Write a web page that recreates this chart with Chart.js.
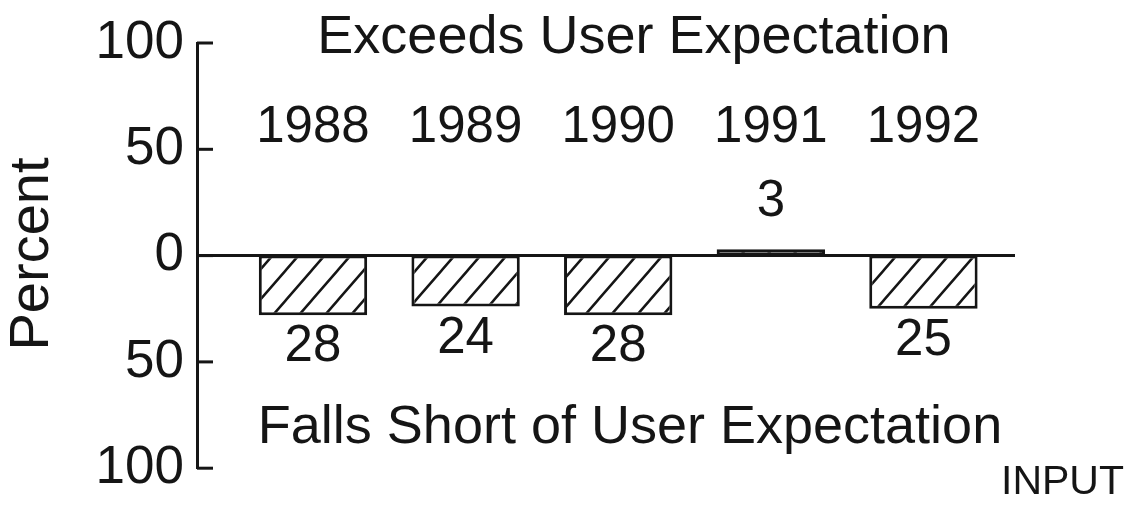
<!DOCTYPE html>
<html>
<head>
<meta charset="utf-8">
<script src="https://cdn.jsdelivr.net/npm/chart.js@4/dist/chart.umd.min.js"></script>
<style>
  html, body { margin: 0; padding: 0; background: #fff; }
  canvas { display: block; }
</style>
</head>
<body>
<canvas id="userChart" width="1127" height="505"></canvas>
<script>
// Net percent vs. user expectation, per year
const years = ['1988', '1989', '1990', '1991', '1992'];
const yearValues = [1988, 1989, 1990, 1991, 1992];
const netPercent = [-28, -24, -28, 3, -25];
const valueLabels = ['28', '24', '28', '3', '25'];
const yTicks = [-100, -50, 0, 50, 100];

const INK = '#151515';
const FONT = '"Liberation Sans", Arial, sans-serif';

function makeHatch() {
    const w = 26, h = 30;
    const c = document.createElement('canvas');
    c.width = w; c.height = h;
    const g = c.getContext('2d');
    g.fillStyle = '#fff';
    g.fillRect(0, 0, w, h);
    g.strokeStyle = INK;
    g.lineWidth = 2.5;
    g.beginPath();
    g.moveTo(-w, 2 * h); g.lineTo(2 * w, -h);
    g.moveTo(-2 * w, 2 * h); g.lineTo(w, -h);
    g.moveTo(0, 2 * h); g.lineTo(3 * w, -h);
    g.stroke();
    return g.createPattern(c, 'repeat');
}

const decorPlugin = {
    id: 'decor',
    beforeDatasetsDraw(chart) {
        const ctx = chart.ctx;
        const y = chart.scales.y;
        const area = chart.chartArea;
        ctx.save();
        ctx.strokeStyle = INK;
        ctx.lineWidth = 3;
        // zero line
        const y0 = y.getPixelForValue(0);
        ctx.beginPath();
        ctx.moveTo(area.left, y0);
        ctx.lineTo(area.right, y0);
        ctx.stroke();
        // tick marks pointing inward
        yTicks.forEach(v => {
            const py = y.getPixelForValue(v);
            ctx.beginPath();
            ctx.moveTo(area.left, py);
            ctx.lineTo(area.left + 16, py);
            ctx.stroke();
        });
        ctx.restore();
    },
    afterDraw(chart) {
        const ctx = chart.ctx;
        const x = chart.scales.x;
        const y = chart.scales.y;
        ctx.save();
        ctx.fillStyle = INK;
        ctx.textAlign = 'center';
        ctx.textBaseline = 'middle';

        ctx.font = '54px ' + FONT;
        ctx.fillText('Exceeds User Expectation', 634, 38);
        ctx.fillText('Falls Short of User Expectation', 630, 428);

        ctx.font = '51px ' + FONT;
        yearValues.forEach((yr, i) => {
            const px = x.getPixelForValue(yr);
            ctx.fillText(years[i], px, y.getPixelForValue(60));
            const v = netPercent[i];
            const py = y.getPixelForValue(v);
            ctx.fillText(valueLabels[i], px, v < 0 ? py + 32 : py - 47);
        });

        // y title
        ctx.save();
        ctx.font = '56px ' + FONT;
        ctx.translate(33, 254);
        ctx.rotate(-Math.PI / 2);
        ctx.fillText('Percent', 0, 0);
        ctx.restore();

        ctx.font = '41px ' + FONT;
        ctx.textAlign = 'right';
        ctx.fillText('INPUT', 1124, 483);
        ctx.restore();
    }
};

new Chart(document.getElementById('userChart'), {
    type: 'bar',
    data: {
        datasets: [{
            data: yearValues.map((yr, i) => ({ x: yr, y: netPercent[i] })),
            backgroundColor: makeHatch(),
            borderColor: INK,
            borderWidth: 3,
            borderSkipped: false,
            barPercentage: 0.71,
            categoryPercentage: 1
        }]
    },
    options: {
        responsive: false,
        animation: false,
        layout: { padding: { top: 43, bottom: 33, left: 0, right: 112 } },
        plugins: {
            legend: { display: false },
            tooltip: { enabled: false }
        },
        scales: {
            x: {
                type: 'linear',
                min: 1987.24,
                max: 1992.6,
                offset: false,
                display: false,
                afterBuildTicks: scale => { scale.ticks = yearValues.map(v => ({ value: v })); }
            },
            y: {
                min: -100,
                max: 100,
                afterFit: scale => { scale.width = 197; },
                afterBuildTicks: scale => { scale.ticks = yTicks.map(v => ({ value: v })); },
                grid: { display: false },
                border: { display: true, color: INK, width: 3 },
                ticks: {
                    color: INK,
                    padding: 5,
                    font: { family: FONT, size: 53 },
                    callback: v => String(Math.abs(v))
                }
            }
        }
    },
    plugins: [decorPlugin]
});
</script>
</body>
</html>
